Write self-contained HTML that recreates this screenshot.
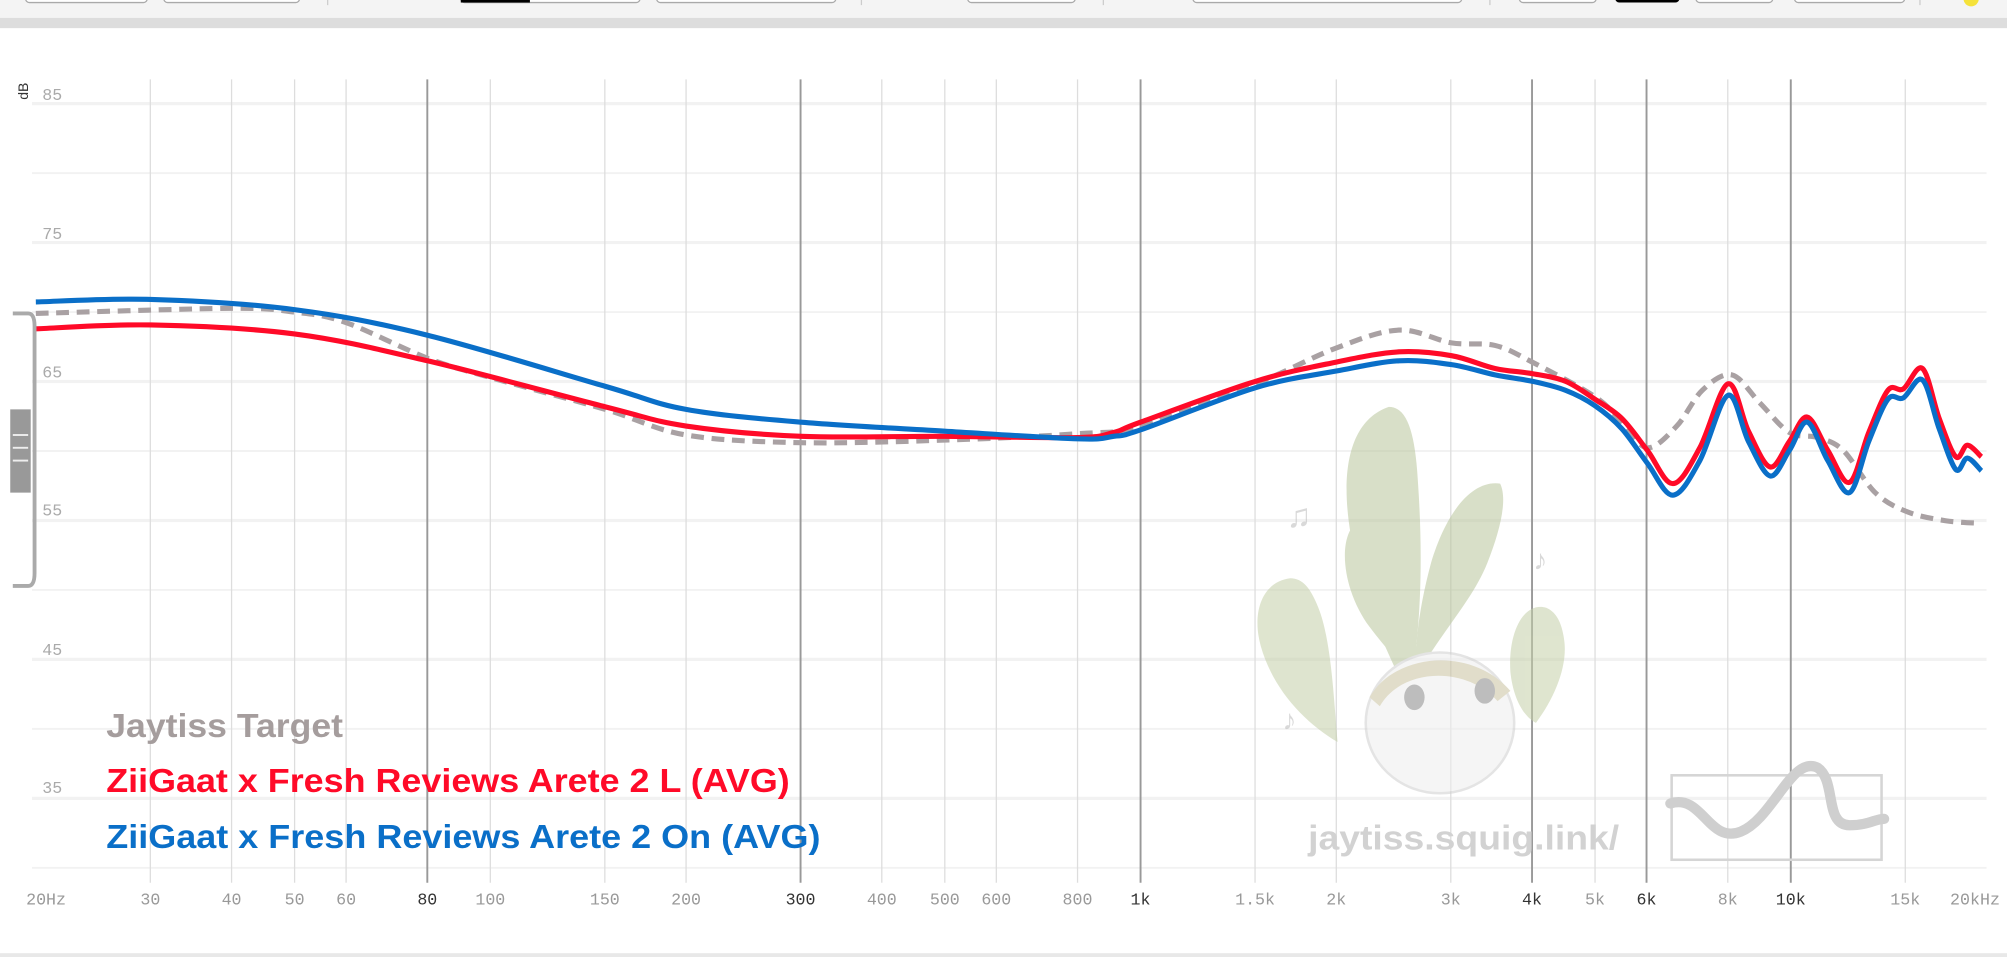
<!DOCTYPE html>
<html><head><meta charset="utf-8"><style>
html,body{margin:0;padding:0;background:#fff;}
svg{display:block;}
</style></head><body>
<svg id="s" width="2007" height="957" viewBox="0 0 1568 748" preserveAspectRatio="none" xmlns="http://www.w3.org/2000/svg">
<rect x="0" y="0" width="1568" height="748" fill="#fff"/>
<rect x="0" y="0" width="1568" height="14" fill="#f4f4f4"/>
<rect x="0" y="14" width="1568" height="8" fill="#dddddd"/>
<g fill="#fff" stroke="#aaa" stroke-width="1">
<rect x="20" y="-6" width="95" height="8" rx="3"/>
<rect x="128" y="-6" width="106" height="8" rx="3"/>
<rect x="360" y="-6" width="140" height="8" rx="3"/>
<rect x="513" y="-6" width="140" height="8" rx="3"/>
<rect x="756" y="-6" width="84" height="8" rx="3"/>
<rect x="932" y="-6" width="210" height="8" rx="3"/>
<rect x="1187" y="-6" width="60" height="8" rx="3"/>
<rect x="1325" y="-6" width="60" height="8" rx="3"/>
<rect x="1402" y="-6" width="86" height="8" rx="3"/>
</g>
<rect x="360" y="-6" width="54" height="8" fill="#000"/>
<rect x="1262" y="-6" width="50" height="8" rx="3" fill="#000"/>
<circle cx="1540" cy="-1" r="6" fill="#f5e23a"/>
<g stroke="#ccc" stroke-width="1">
<line x1="256" y1="0" x2="256" y2="4"/><line x1="673" y1="0" x2="673" y2="4"/><line x1="862" y1="0" x2="862" y2="4"/><line x1="1164" y1="0" x2="1164" y2="4"/><line x1="1500" y1="0" x2="1500" y2="4"/>
</g>
<g id="hgrid"></g>
<g id="vgrid"></g>
<g id="mascot" opacity="0.55">
<path d="M1085,318 C1050,330 1045,380 1060,440 C1072,490 1090,520 1100,545 C1110,500 1112,440 1108,380 C1106,340 1100,318 1085,318Z" fill="#b9c69c"/>
<path d="M1172,378 C1150,375 1130,400 1118,440 C1110,470 1105,500 1106,530 C1125,495 1150,470 1162,440 C1172,415 1178,390 1172,378Z" fill="#b9c69c"/>
<path d="M1060,408 C1045,420 1048,460 1070,490 C1085,510 1100,525 1112,540 C1108,500 1095,455 1082,430 C1075,415 1068,405 1060,408Z" fill="#b9c69c"/>
<path d="M1008,452 C985,455 978,480 985,505 C995,540 1020,565 1045,580 C1042,545 1040,500 1030,475 C1024,460 1018,452 1008,452Z" fill="#c4cfa8"/>
<path d="M1208,475 C1190,470 1178,495 1180,525 C1182,545 1190,560 1200,565 C1215,545 1225,520 1222,500 C1220,485 1215,478 1208,475Z" fill="#c4cfa8"/>
<ellipse cx="1125" cy="565" rx="58" ry="55" fill="#eeeeee" stroke="#cfcfcf" stroke-width="2"/>
<path d="M1070,545 C1090,510 1150,505 1180,540 L1170,548 C1145,520 1095,522 1078,552Z" fill="#c9c2a0"/>
<ellipse cx="1105" cy="545" rx="8" ry="10" fill="#888"/>
<ellipse cx="1160" cy="540" rx="8" ry="10" fill="#888"/>
<text x="1005" y="412" font-size="26" fill="#bbb">♫</text>
<text x="1198" y="445" font-size="22" fill="#bbb">♪</text>
<text x="1002" y="570" font-size="22" fill="#bbb">♪</text>
</g>
<text x="1022" y="664" font-family="Liberation Sans, sans-serif" font-weight="bold" font-size="27" fill="#d2d2d2" textLength="243" lengthAdjust="spacingAndGlyphs">jaytiss.squig.link/</text>
<rect x="1306" y="606" width="164" height="66" fill="none" stroke="#d5d5d5" stroke-width="2"/>
<path d="M1305,628 C1330,620 1335,660 1360,650 C1385,640 1400,590 1420,600 C1435,610 1425,645 1445,645 C1460,645 1465,640 1472,640" fill="none" stroke="#cfcfcf" stroke-width="8" stroke-linecap="round"/>
<g id="curves"></g>
<path d="M10,245 L22,245 Q27,245 27,255 L27,448 Q27,458 22,458 L10,458" fill="none" stroke="#aaa" stroke-width="3"/>
<path d="M8,320 L24,320 L24,385 L8,385 Z" fill="#999"/>
<g stroke="#eee" stroke-width="1.5"><line x1="10" y1="340" x2="22" y2="340"/><line x1="10" y1="350" x2="22" y2="350"/><line x1="10" y1="360" x2="22" y2="360"/></g>
<text transform="translate(22,78) rotate(-90)" font-family="Liberation Sans, sans-serif" font-size="11" fill="#333">dB</text>
<g font-family="Liberation Mono, monospace" font-size="13" fill="#aaa">
<text x="33" y="78">85</text><text x="33" y="187">75</text><text x="33" y="295">65</text>
<text x="33" y="403">55</text><text x="33" y="512">45</text><text x="33" y="620">35</text>
</g>
<g id="xlab" font-family="Liberation Mono, monospace" font-size="13" text-anchor="middle"></g>
<g font-family="Liberation Sans, sans-serif" font-weight="bold" font-size="26" lengthAdjust="spacingAndGlyphs">
<text x="83" y="576" fill="#a59d9d" textLength="185" lengthAdjust="spacingAndGlyphs">Jaytiss Target</text>
<text x="83" y="619" fill="#ff0a28" textLength="534" lengthAdjust="spacingAndGlyphs">ZiiGaat x Fresh Reviews Arete 2 L (AVG)</text>
<text x="83" y="663" fill="#0a6fc8" textLength="558" lengthAdjust="spacingAndGlyphs">ZiiGaat x Fresh Reviews Arete 2 On (AVG)</text>
</g>
<rect x="0" y="745" width="1568" height="3" fill="#e8e8e8"/>
</svg>
<script>
var NS="http://www.w3.org/2000/svg";
function el(t,a,p){var e=document.createElementNS(NS,t);for(var k in a)e.setAttribute(k,a[k]);p.appendChild(e);return e;}
var hg=document.getElementById('hgrid');
for(var d=85;d>=30;d-=5){var y=81+(85-d)*10.86;el('line',{x1:25,x2:1552,y1:y,y2:y,stroke:'#f2f2f2','stroke-width':(d%10==5?2.5:1.5)},hg);}
var vg=document.getElementById('vgrid'),xl=document.getElementById('xlab');
var ticks=[[20,'20Hz',0],[30,'30',0],[40,'40',0],[50,'50',0],[60,'60',0],[80,'80',1],[100,'100',0],[150,'150',0],[200,'200',0],[300,'300',1],[400,'400',0],[500,'500',0],[600,'600',0],[800,'800',0],[1000,'1k',1],[1500,'1.5k',0],[2000,'2k',0],[3000,'3k',0],[4000,'4k',1],[5000,'5k',0],[6000,'6k',1],[8000,'8k',0],[10000,'10k',1],[15000,'15k',0],[20000,'20kHz',0]];
ticks.forEach(function(t){var x=28+508*Math.log10(t[0]/20);
if(t[0]>20&&t[0]<20000)el('line',{x1:x,x2:x,y1:62,y2:690,stroke:t[2]?'#999':'#ddd','stroke-width':t[2]?1.5:1},vg);
var tx=el('text',{x:(t[0]==20?36:(t[0]==20000?1543:x)),y:707,fill:t[2]?'#333':'#999'},xl);tx.textContent=t[1];});
function path(p){var s='M'+p[0][0]+','+p[0][1];for(var i=0;i<p.length-1;i++){var p0=p[i-1]||p[i],p1=p[i],p2=p[i+1],p3=p[i+2]||p2;
s+=' C'+(p1[0]+(p2[0]-p0[0])/6)+','+(p1[1]+(p2[1]-p0[1])/6)+' '+(p2[0]-(p3[0]-p1[0])/6)+','+(p2[1]-(p3[1]-p1[1])/6)+' '+p2[0]+','+p2[1];}return s;}
var gray=[[28,245],[181,241],[230,244],[270,252],[334,280],[383,295],[473,320],[536,340],[626,346],[738,344],[842,339],[891,333],[981,300],[1044,272],[1093,258],[1134,268],[1168,270],[1197,283],[1246,310],[1267,330],[1287,350],[1310,333],[1330,305],[1353,293],[1375,315],[1398,338],[1420,342],[1440,352],[1465,385],[1490,400],[1520,407],[1548,409]];
var red=[[28,257],[118,254],[230,261],[334,282],[473,318],[536,333],[626,341],[738,341],[842,342],[870,338],[891,330],[981,298],[1044,283],[1093,275],[1134,278],[1168,288],[1197,292],[1223,298],[1246,312],[1267,327],[1287,352],[1307,378],[1328,350],[1350,300],[1366,337],[1383,365],[1398,345],[1412,326],[1428,352],[1445,377],[1460,338],[1475,305],[1487,304],[1502,288],[1515,327],[1528,357],[1537,348],[1548,357]];
var blue=[[28,236],[118,234],[230,242],[334,262],[473,302],[536,320],[626,330],[738,337],[842,343],[870,341],[891,336],[981,303],[1044,290],[1093,282],[1134,285],[1168,293],[1197,298],[1223,305],[1246,317],[1267,335],[1287,362],[1307,387],[1328,360],[1350,309],[1366,345],[1383,372],[1398,352],[1412,330],[1428,360],[1445,385],[1460,345],[1475,312],[1487,311],[1502,297],[1515,335],[1528,367],[1537,358],[1548,368]];
var c=document.getElementById('curves');
el('path',{d:path(gray),fill:'none',stroke:'#a9a1a3','stroke-width':4,'stroke-dasharray':'10 6'},c);
el('path',{d:path(red),fill:'none',stroke:'#ff0a28','stroke-width':4},c);
el('path',{d:path(blue),fill:'none',stroke:'#0a6fc8','stroke-width':4},c);
</script>
</body></html>
